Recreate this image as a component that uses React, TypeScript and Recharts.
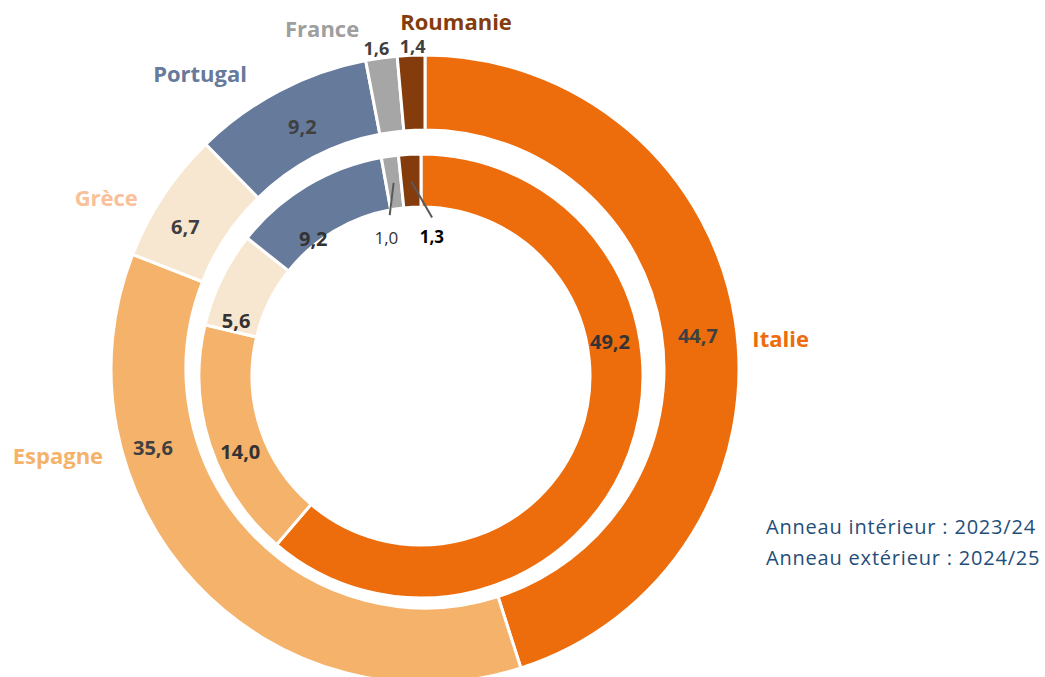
import React from 'react';
import { PieChart, Pie, Cell } from 'recharts';

const categories = ['Italie', 'Espagne', 'Grèce', 'Portugal', 'France', 'Roumanie'];
const inner2324 = [49.2, 14.0, 5.6, 9.2, 1.0, 1.3];
const outer2425 = [44.7, 35.6, 6.7, 9.2, 1.6, 1.4];
const legendLines = ['Anneau intérieur : 2023/24', 'Anneau extérieur : 2024/25'];

const sliceColors = ['#ED6C0C', '#F4B26B', '#F8E7D0', '#667A9B', '#A6A6A6', '#843C0C'];
const nameColors = ['#ED6C0C', '#F4B26B', '#F8C19A', '#667A9B', '#9E9E9E', '#843C0C'];

// label anchors: [angle clockwise from 12 o'clock, radius]
const outerValuePos = [[82.9, 275], [254, 283], [300.8, 279], [333.2, 272], [351.4, 325], [357.8, 323]];
const innerValuePos = [[79.8, 192], [247.2, 196], [286.6, 193], [322, 175], [346, 143], [4.5, 139.5]];
const namePos = [[85, 357], [256.8, 377], [298.3, 362], [322.8, 372], [343.2, 356], [5.1, 349]];
const leaderEnd: Record<number, [number, number]> = { 4: [349, 164], 5: [4, 159] };

const FONT = '"Open Sans", sans-serif';
const fmt = (v: number) => v.toFixed(1).replace('.', ',');

const polar = (cx: number, cy: number, deg: number, r: number) => {
  const a = (deg * Math.PI) / 180;
  return { x: cx + r * Math.sin(a), y: cy - r * Math.cos(a) };
};

const outerData = categories.map((name, i) => ({ name, value: outer2425[i] }));
const innerData = categories.map((name, i) => ({ name, value: inner2324[i] }));

const renderOuterLabel = (props: any) => {
  const { cx, cy, index, value } = props;
  const [va, vr] = outerValuePos[index];
  const [na, nr] = namePos[index];
  const v = polar(cx, cy, va, vr);
  const n = polar(cx, cy, na, nr);
  const small = index >= 4;
  return (
    <g key={`ol-${index}`}>
      <text x={v.x} y={v.y} textAnchor="middle" dominantBaseline="central"
        fontFamily={FONT} fontWeight={700} fontSize={small ? 18 : 20} fill="#404040">
        {fmt(value)}
      </text>
      <text x={n.x} y={n.y} textAnchor="middle" dominantBaseline="central"
        fontFamily={FONT} fontWeight={700} fontSize={22} fill={nameColors[index]}>
        {categories[index]}
      </text>
    </g>
  );
};

const renderInnerLabel = (props: any) => {
  const { cx, cy, index, value, midAngle } = props;
  const [va, vr] = innerValuePos[index];
  const v = polar(cx, cy, va, vr);
  const lead = leaderEnd[index];
  const small = index >= 4;
  let line = null;
  if (lead) {
    const s = polar(cx, cy, 90 - midAngle, 195);
    const e = polar(cx, cy, lead[0], lead[1]);
    line = <line x1={s.x} y1={s.y} x2={e.x} y2={e.y} stroke="#595959" strokeWidth={2} />;
  }
  return (
    <g key={`il-${index}`}>
      {line}
      <text x={v.x} y={v.y} textAnchor="middle" dominantBaseline="central"
        fontFamily={FONT} fontWeight={index === 4 ? 500 : 700} fontSize={small ? 17 : 20}
        fill={index === 5 ? '#000000' : '#333333'}>
        {fmt(value)}
      </text>
    </g>
  );
};

export default function App() {
  return (
    <div style={{ position: 'fixed', left: 0, top: 0, width: 1045, height: 677, overflow: 'hidden', background: '#ffffff' }}>
      <PieChart width={1045} height={677} margin={{ top: 0, right: 0, bottom: 0, left: 0 }}>
        <Pie
          data={outerData}
          dataKey="value"
          cx={425}
          cy={369}
          innerRadius={239}
          outerRadius={314}
          startAngle={90}
          endAngle={-270}
          stroke="#ffffff"
          strokeWidth={3}
          label={renderOuterLabel}
          labelLine={false}
          isAnimationActive={false}
        >
          {outerData.map((d, i) => (
            <Cell key={d.name} fill={sliceColors[i]} />
          ))}
        </Pie>
        <Pie
          data={innerData}
          dataKey="value"
          cx={421}
          cy={376}
          innerRadius={169}
          outerRadius={222}
          startAngle={90}
          endAngle={-270}
          stroke="#ffffff"
          strokeWidth={3}
          label={renderInnerLabel}
          labelLine={false}
          isAnimationActive={false}
        >
          {innerData.map((d, i) => (
            <Cell key={d.name} fill={sliceColors[i]} />
          ))}
        </Pie>
      </PieChart>
      <div style={{ position: 'absolute', left: 766, top: 511, fontFamily: FONT, fontSize: 20, letterSpacing: '0.8px', lineHeight: '31px', color: '#1F4E79', whiteSpace: 'nowrap' }}>
        {legendLines.map((t) => (
          <div key={t}>{t}</div>
        ))}
      </div>
    </div>
  );
}
